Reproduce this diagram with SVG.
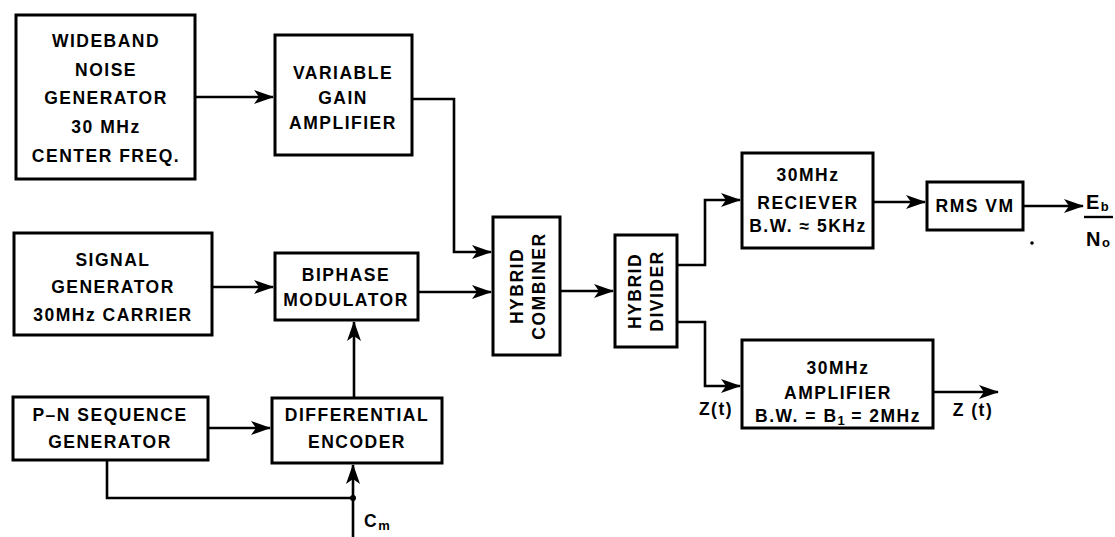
<svg xmlns="http://www.w3.org/2000/svg" width="1115" height="537" viewBox="0 0 1115 537">
<style>
.box{fill:#fff;stroke:#000;stroke-width:3}
.ln{fill:none;stroke:#000;stroke-width:2.6}
.t{font-family:"Liberation Sans",Arial,sans-serif;font-weight:bold;font-size:17.5px;letter-spacing:1.5px;text-anchor:middle;fill:#000}
.s{font-size:13px;letter-spacing:0}
.big{font-size:20px}
</style>
<defs>
<marker id="ah" viewBox="0 0 20 14" refX="19" refY="7" markerWidth="20" markerHeight="14" markerUnits="userSpaceOnUse" orient="auto">
<path d="M0,0 L20,7 L0,14 L5,7 z" fill="#000"/>
</marker>
</defs>
<rect width="1115" height="537" fill="#fff"/>
<g id="connectors">
<path class="ln" d="M195,97 L273,97" marker-end="url(#ah)"/>
<path class="ln" d="M412,99 L454,99 L454,252 L491,252" marker-end="url(#ah)"/>
<path class="ln" d="M212,287 L273,287" marker-end="url(#ah)"/>
<path class="ln" d="M418,292 L491,292" marker-end="url(#ah)"/>
<path class="ln" d="M208,428 L270,428" marker-end="url(#ah)"/>
<path class="ln" d="M354,398 L354,322" marker-end="url(#ah)"/>
<path class="ln" d="M107,460 L107,498 L353,498"/>
<path class="ln" d="M353,537 L353,465" marker-end="url(#ah)"/>
<circle cx="353" cy="498" r="3" fill="#000"/>
<path class="ln" d="M560,291 L613,291" marker-end="url(#ah)"/>
<path class="ln" d="M677,265 L705,265 L705,200 L740,200" marker-end="url(#ah)"/>
<path class="ln" d="M677,322 L705,322 L705,386 L740,386" marker-end="url(#ah)"/>
<path class="ln" d="M873,202 L925,202" marker-end="url(#ah)"/>
<path class="ln" d="M1023,206 L1083,206" marker-end="url(#ah)"/>
<path class="ln" d="M933,392 L998,392" marker-end="url(#ah)"/>
</g>
<g id="wideband">
<rect class="box" x="16" y="15" width="179" height="164"/>
<text class="t" x="106" y="47">WIDEBAND</text>
<text class="t" x="106" y="76">NOISE</text>
<text class="t" x="106" y="104">GENERATOR</text>
<text class="t" x="106" y="133">30 MHz</text>
<text class="t" x="106" y="162">CENTER FREQ.</text>
</g>
<g id="vga">
<rect class="box" x="275" y="35" width="137" height="120"/>
<text class="t" x="343" y="79">VARIABLE</text>
<text class="t" x="343" y="104">GAIN</text>
<text class="t" x="343" y="129">AMPLIFIER</text>
</g>
<g id="siggen">
<rect class="box" x="14" y="233" width="198" height="102"/>
<text class="t" x="113" y="266">SIGNAL</text>
<text class="t" x="113" y="293">GENERATOR</text>
<text class="t" x="113" y="321">30MHz CARRIER</text>
</g>
<g id="biphase">
<rect class="box" x="275" y="253" width="143" height="67"/>
<text class="t" x="346" y="281">BIPHASE</text>
<text class="t" x="346" y="306">MODULATOR</text>
</g>
<g id="pn">
<rect class="box" x="13" y="397" width="195" height="63"/>
<text class="t" x="110" y="421">P–N SEQUENCE</text>
<text class="t" x="110" y="448">GENERATOR</text>
</g>
<g id="diffenc">
<rect class="box" x="272" y="398" width="170" height="65"/>
<text class="t" x="357" y="421">DIFFERENTIAL</text>
<text class="t" x="357" y="448">ENCODER</text>
</g>
<g id="cm">
<text class="t" x="364" y="527" style="text-anchor:start">C<tspan class="s" dy="3">m</tspan></text>
</g>
<g id="combiner">
<rect class="box" x="493" y="217" width="67" height="138"/>
<text class="t" transform="translate(523,286) rotate(-90)">HYBRID</text>
<text class="t" transform="translate(545,286) rotate(-90)">COMBINER</text>
</g>
<g id="divider">
<rect class="box" x="615" y="235" width="62" height="112"/>
<text class="t" transform="translate(641,291) rotate(-90)">HYBRID</text>
<text class="t" transform="translate(663,291) rotate(-90)">DIVIDER</text>
</g>
<g id="receiver">
<rect class="box" x="742" y="153" width="131" height="95"/>
<text class="t" x="808" y="181">30MHz</text>
<text class="t" x="808" y="209">RECIEVER</text>
<text class="t" x="808" y="232">B.W. ≈ 5KHz</text>
</g>
<g id="rmsvm">
<rect class="box" x="927" y="182" width="96" height="48"/>
<text class="t" x="975" y="212">RMS VM</text>
</g>
<g id="ebno">
<text class="t big" x="1086" y="209" style="text-anchor:start">E<tspan class="s" dy="2">b</tspan></text>
<line x1="1084" y1="217" x2="1113" y2="217" stroke="#000" stroke-width="2.4"/>
<text class="t big" x="1086" y="246" style="text-anchor:start">N<tspan class="s" dy="1">o</tspan></text>
<circle cx="1032" cy="243" r="1.8" fill="#000"/>
</g>
<g id="amplifier">
<rect class="box" x="742" y="340" width="191" height="88"/>
<text class="t" x="838" y="374">30MHz</text>
<text class="t" x="838" y="399">AMPLIFIER</text>
<text class="t" x="838" y="422">B.W. = B<tspan class="s" dy="3">1</tspan><tspan dy="-3"> = 2MHz</tspan></text>
</g>
<g id="zlabels">
<text class="t" x="716" y="415">Z(t)</text>
<text class="t" x="973" y="416">Z (t)</text>
</g>
</svg>
